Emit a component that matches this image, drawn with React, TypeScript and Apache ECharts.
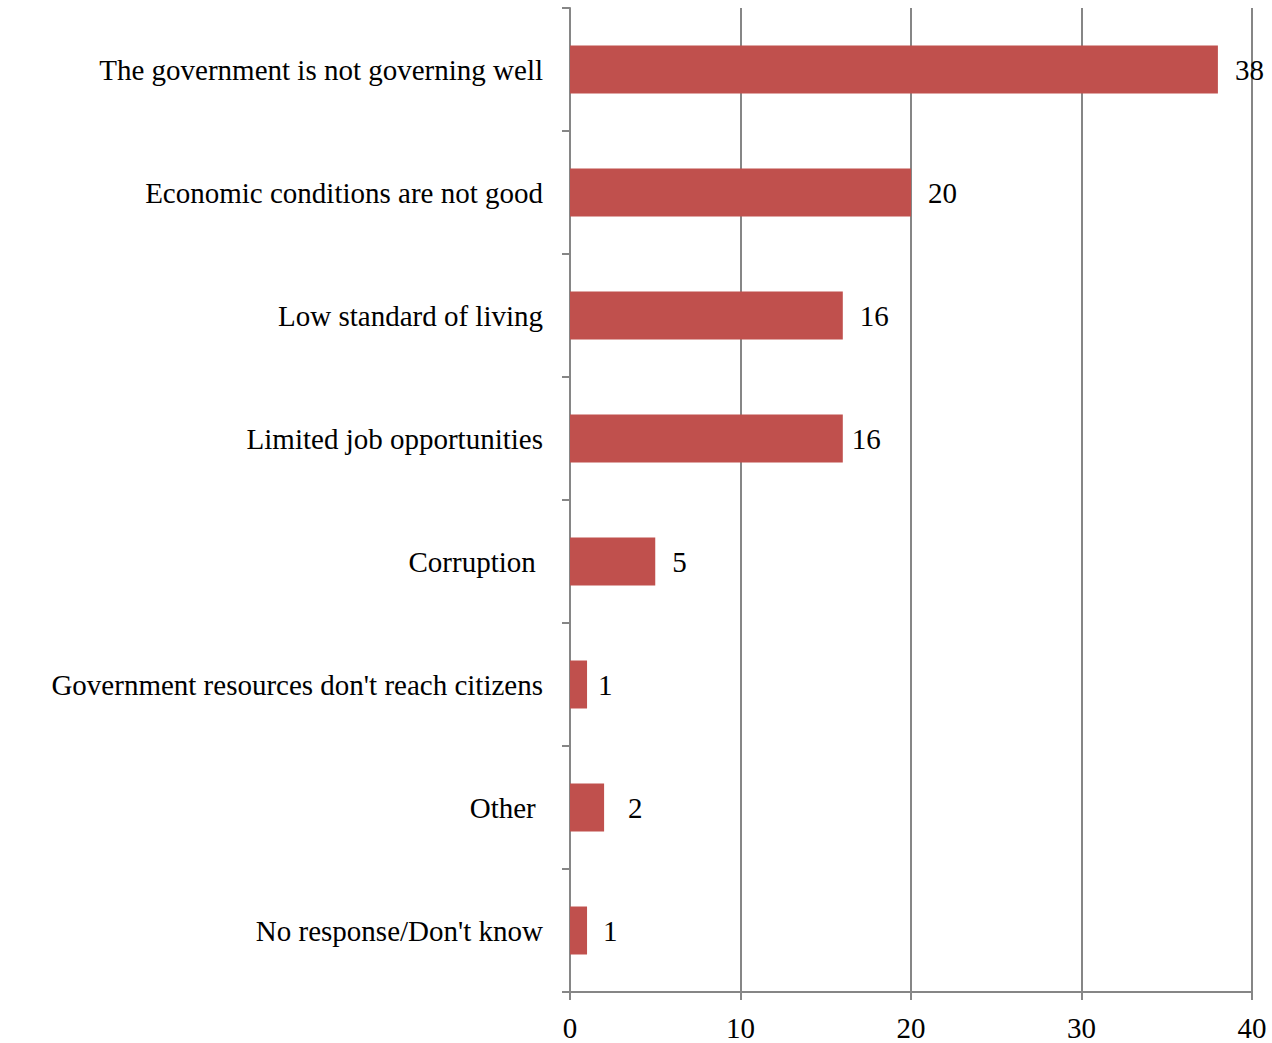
import React, { useEffect, useRef } from "react";
import * as echarts from "echarts";

const categories = [
  "The government is not governing well",
  "Economic conditions are not good",
  "Low standard of living",
  "Limited job opportunities",
  "Corruption ",
  "Government resources don't reach citizens",
  "Other ",
  "No response/Don't know",
];
const values = [38, 20, 16, 16, 5, 1, 2, 1];
const labelGaps = [17, 17, 17, 9, 17, 11, 24, 16];
const xTicks = { min: 0, max: 40, interval: 10 };

const FONT = "'Liberation Serif', 'DejaVu Serif', serif";
const FS = 29;

export default function App() {
  const ref = useRef<HTMLDivElement>(null);
  useEffect(() => {
    if (!ref.current) return;
    const chart = echarts.init(ref.current, undefined, { renderer: "svg" });
    chart.setOption({
      animation: false,
      backgroundColor: "#ffffff",
      grid: { left: 570, right: 20, top: 8, bottom: 51, containLabel: false },
      xAxis: {
        type: "value",
        min: xTicks.min,
        max: xTicks.max,
        interval: xTicks.interval,
        axisLine: { show: true, lineStyle: { color: "#868686", width: 2 } },
        axisTick: { show: true, length: 8, inside: false, lineStyle: { color: "#868686", width: 2 } },
        splitLine: { show: true, lineStyle: { color: "#868686", width: 2 } },
        axisLabel: { color: "#000", fontFamily: FONT, fontSize: FS, margin: 21 },
      },
      yAxis: {
        type: "category",
        data: categories,
        inverse: true,
        axisLine: { show: true, lineStyle: { color: "#868686", width: 2 } },
        axisTick: { show: true, length: 8, alignWithLabel: false, lineStyle: { color: "#868686", width: 2 } },
        axisLabel: { color: "#000", fontFamily: FONT, fontSize: FS, margin: 27 },
        splitLine: { show: false },
      },
      series: [
        {
          type: "bar",
          barWidth: 48,
          data: values.map((v, i) => ({
            value: v,
            label: { distance: labelGaps[i] },
          })),
          itemStyle: { color: "#C0504D" },
          label: {
            show: true,
            position: "right",
            color: "#000",
            fontFamily: FONT,
            fontSize: FS,
          },
        },
      ],
    });
    return () => chart.dispose();
  }, []);
  return (
    <div
      ref={ref}
      style={{ position: "fixed", left: 0, top: 0, width: 1272, height: 1043 }}
    />
  );
}
